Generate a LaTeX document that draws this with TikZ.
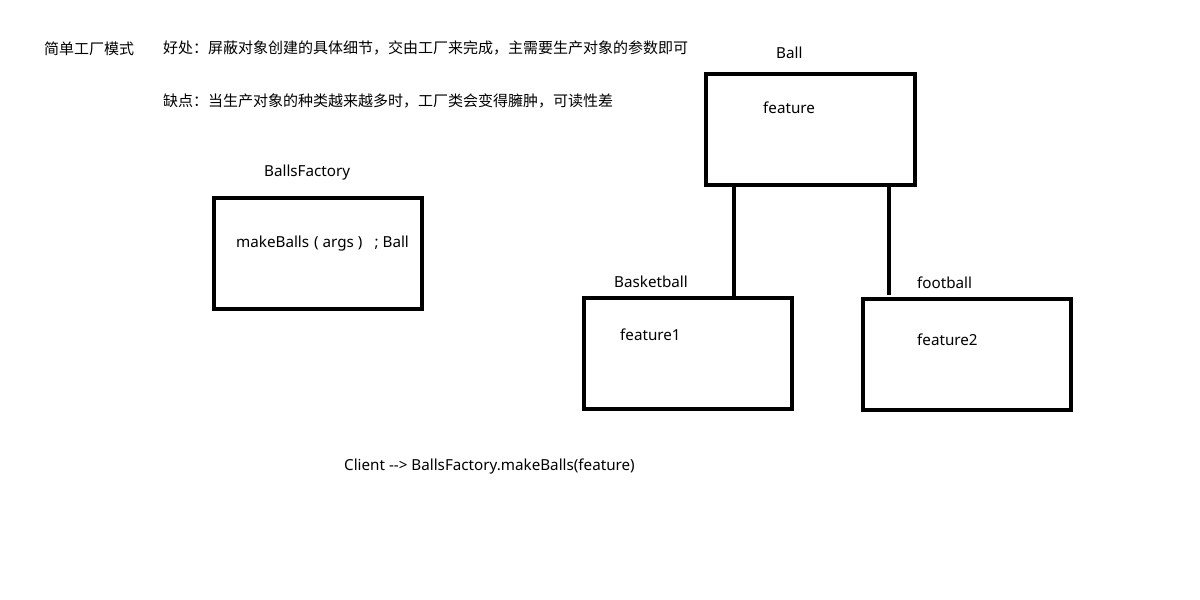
\documentclass[tikz,border=0pt]{standalone}
\usepackage{fontspec}
\setmainfont{Noto Sans}
\newfontfamily\cjkfont{Noto Sans CJK SC}
\begin{document}
\begin{tikzpicture}[x=1pt,y=-1pt,
  box/.style={draw,line width=4pt,minimum width=#1,inner sep=0pt},
  lbl/.style={anchor=west,inner sep=0pt,yshift=-2pt,font=\fontsize{15.2}{17}\selectfont},
  cjk/.style={anchor=west,inner sep=0pt,font=\cjkfont\fontsize{15}{17}\selectfont},
  link/.style={line width=4pt}]
\useasboundingbox[fill=white] (0,0) rectangle (1200,600);
% boxes
\node[box=209pt,minimum height=111pt] (ball) at (810.5,129.5) {};
\node[box=208pt,minimum height=111pt] (bask) at (688,353.5) {};
\node[box=208pt,minimum height=111pt] (foot) at (967,354.5) {};
\node[box=208pt,minimum height=111pt] (fact) at (318,253.5) {};
% texts
\node[cjk] (title) at (44,49) {简单工厂模式};
\node[cjk] (pro) at (163,48) {好处：屏蔽对象创建的具体细节，交由工厂来完成，主需要生产对象的参数即可};
\node[cjk] (con) at (163,101) {缺点：当生产对象的种类越来越多时，工厂类会变得臃肿，可读性差};
\node[lbl] (balllbl) at (776,51) {Ball};
\node[lbl] (ballf) at (763,106) {feature};
\node[lbl] (factlbl) at (264,171) {BallsFactory};
\node[lbl] (factm) at (236,242) {makeBalls\hspace{5pt}(\hspace{4pt}args\hspace{4pt})\hspace{12pt};\hspace{4pt}Ball};
\node[lbl] (basklbl) at (614,280) {Basketball};
\node[lbl] (baskf) at (620,333) {feature1};
\node[lbl] (footlbl) at (917,281) {football};
\node[lbl] (footf) at (917,338) {feature2};
\node[lbl] (client) at (344,465) {Client {-}{-}> BallsFactory.makeBalls(feature)};
% connectors
\coordinate (c1) at (734,0);
\coordinate (c2) at (889,0);
\draw[link] (ball.south -| c1) -- ([yshift=-2pt]bask.north -| c1);
\draw[link] (ball.south -| c2) -- ([yshift=2pt]foot.north -| c2);
\end{tikzpicture}
\end{document}
